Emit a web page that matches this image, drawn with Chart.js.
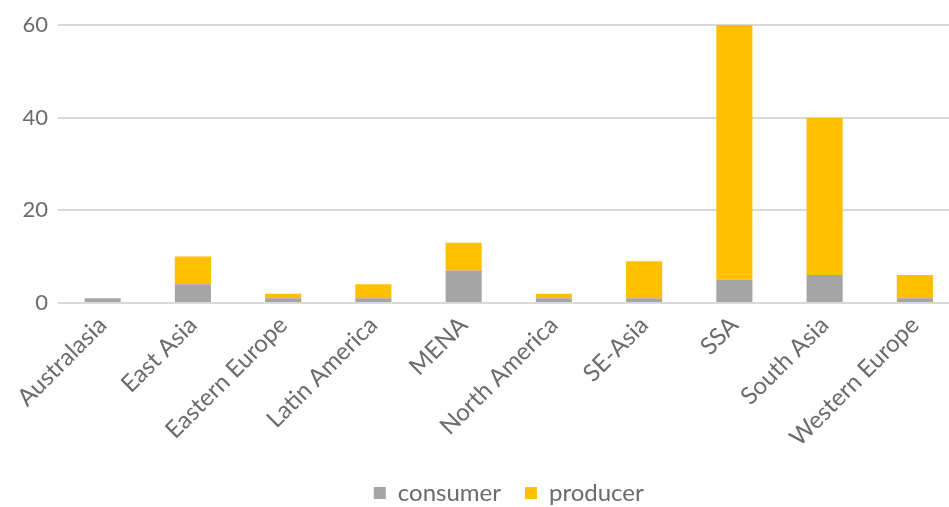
<!DOCTYPE html>
<html>
<head>
<meta charset="utf-8">
<script src="https://cdn.jsdelivr.net/npm/chart.js@4"></script>
<style>
    html, body { margin: 0; padding: 0; background: #fff; overflow: hidden; }
    #wrap { width: 949px; height: 507px; overflow: hidden; }
</style>
</head>
<body>
<div id="wrap"><canvas id="regionChart" width="960" height="507"></canvas></div>
<script>
// Regions along the x axis
const regions = ['Australasia', 'East Asia', 'Eastern Europe', 'Latin America', 'MENA',
    'North America', 'SE-Asia', 'SSA', 'South Asia', 'Western Europe'];

// Stacked values per region
const consumer = [1, 4, 1, 1, 7, 1, 1, 5, 6, 1];
const producer = [0, 6, 1, 3, 6, 1, 8, 55, 34, 5];

// Y axis ticks
const yTicks = [0, 20, 40, 60];

const FONT = 'Lato, "Open Sans", sans-serif';
const TEXT = '#6b6b6b';

document.addEventListener('DOMContentLoaded', () => {
    createRegionChart();
});

function createRegionChart() {
    const ctx = document.getElementById('regionChart').getContext('2d');

    new Chart(ctx, {
        type: 'bar',
        data: {
            labels: regions,
            datasets: [
                {
                    label: 'consumer',
                    data: consumer,
                    backgroundColor: '#a5a5a5',
                    barPercentage: 0.4,
                    categoryPercentage: 1
                },
                {
                    label: 'producer',
                    data: producer,
                    backgroundColor: '#ffc000',
                    barPercentage: 0.4,
                    categoryPercentage: 1
                }
            ]
        },
        options: {
            responsive: false,
            animation: false,
            layout: {
                padding: { top: 25, right: 0, bottom: -8, left: 13 }
            },
            plugins: {
                tooltip: { enabled: false },
                legend: {
                    position: 'bottom',
                    fullSize: false,
                    labels: {
                        boxWidth: 12,
                        boxHeight: 12,
                        padding: 24,
                        color: TEXT,
                        font: { family: FONT, size: 24 }
                    }
                }
            },
            scales: {
                x: {
                    stacked: true,
                    grid: { display: false },
                    border: { display: false },
                    afterFit: axis => {
                        // let the first rotated label hang into the left margin
                        axis.paddingLeft = 0;
                        // extra room between the rotated labels and the legend
                        axis.height += 5;
                    },
                    ticks: {
                        color: TEXT,
                        font: { family: FONT, size: 24 },
                        minRotation: 45,
                        maxRotation: 45,
                        autoSkip: false,
                        padding: 0
                    }
                },
                y: {
                    stacked: true,
                    min: 0,
                    max: 60,
                    afterBuildTicks: axis => {
                        axis.ticks = yTicks.map(v => ({ value: v }));
                    },
                    afterFit: axis => {
                        // top/bottom room is set by layout padding instead
                        axis.paddingTop = 0;
                        axis.paddingBottom = 0;
                    },
                    grid: {
                        color: '#d9d9d9',
                        lineWidth: 2,
                        drawTicks: false
                    },
                    border: { display: false },
                    ticks: {
                        color: TEXT,
                        font: { family: FONT, size: 22 },
                        padding: 9.5
                    }
                }
            }
        }
    });
}
</script>
</body>
</html>
